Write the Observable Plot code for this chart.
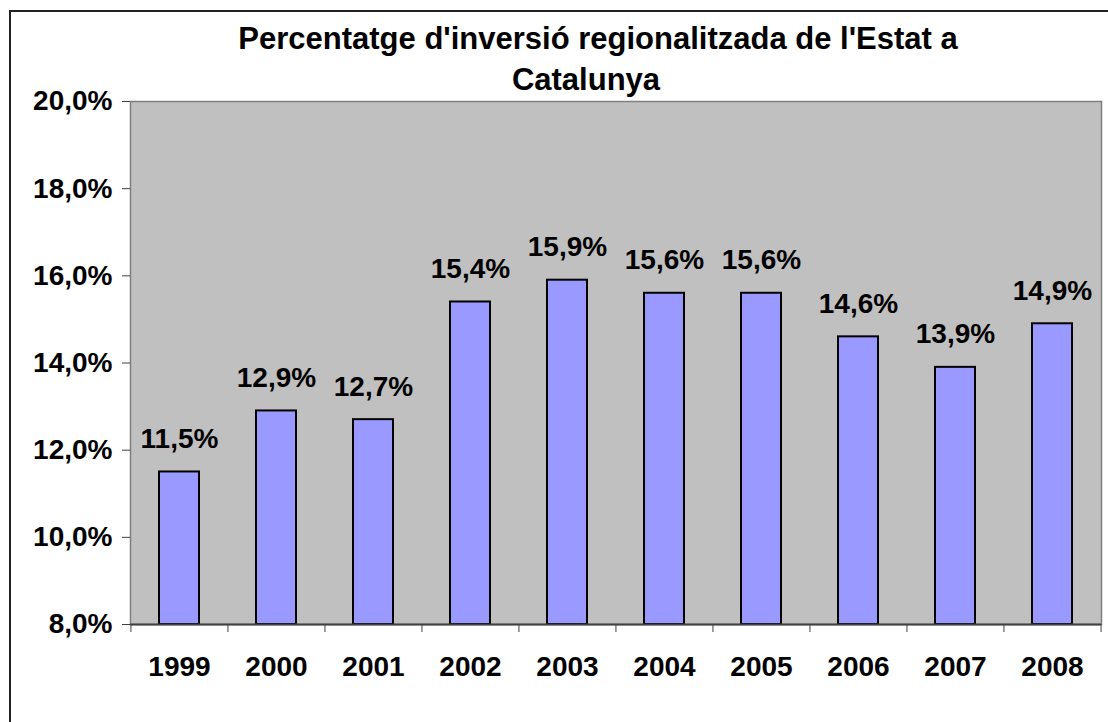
<!DOCTYPE html>
<html><head><meta charset="utf-8">
<script src="https://cdn.jsdelivr.net/npm/d3@7"></script>
<script src="https://cdn.jsdelivr.net/npm/@observablehq/plot@0.6"></script>
<style>
body{margin:0;background:#fff;}
#wrap{position:relative;width:1108px;height:722px;overflow:hidden;font-family:"Liberation Sans",Arial,sans-serif;}
#border{position:absolute;left:9px;top:10px;width:1300px;height:900px;border:2px solid #222;box-sizing:border-box;pointer-events:none;}
.t{position:absolute;font-weight:bold;font-size:31px;white-space:nowrap;transform:translateX(-50%);line-height:1;color:#000;}
#chart{position:absolute;left:0;top:0;}
</style></head>
<body>
<div id="wrap">
  <div id="chart"></div>
  <div id="border"></div>
  <div class="t" style="left:598px;top:23px;">Percentatge d'inversió regionalitzada de l'Estat a</div>
  <div class="t" style="left:586px;top:64px;">Catalunya</div>
</div>
<script>
const years = ["1999","2000","2001","2002","2003","2004","2005","2006","2007","2008"];
const values = [11.5,12.9,12.7,15.4,15.9,15.6,15.6,14.6,13.9,14.9];
const yTicks = [8,10,12,14,16,18,20];
const yDomain = [8,20];

const data = years.map((y,i)=>({year:y, value:values[i]}));
const fmt = v => v.toFixed(1).replace(".", ",") + "%";
const W=1108, H=722, mL=130, mR=7, mT=101, mB=98;
const step = (W-mL-mR)/years.length;

const chart = Plot.plot({
  width: W, height: H,
  marginLeft: mL, marginRight: mR, marginTop: mT, marginBottom: mB,
  style: {fontFamily: "'Liberation Sans', Arial, sans-serif", fontSize: "28px", fontWeight: "bold", color: "#000", background: "transparent", overflow: "visible"},
  x: {domain: years, paddingInner: 0.59, paddingOuter: 0.295, label: null},
  y: {domain: yDomain, label: null},
  marks: [
    Plot.frame({fill: "#C0C0C0", stroke: "#808080", strokeWidth: 1.5}),
    Plot.barY(data, {x: "year", y1: yDomain[0], y2: "value", fill: "#9999FF", stroke: "#000", strokeWidth: 2}),
    Plot.ruleY([yDomain[0]], {stroke: "#404040", strokeWidth: 2}),
    Plot.axisY({ticks: yTicks, tickFormat: fmt, tickSize: 8, tickPadding: 10, stroke: "#404040", label: null}),
    Plot.axisX({tickSize: 0, tickPadding: 32, label: null}),
    Plot.axisX({tickSize: 8, tickFormat: () => "", dx: -step/2, stroke: "#404040", label: null}),
    Plot.axisX({ticks: [years[years.length-1]], tickSize: 8, tickFormat: () => "", dx: step/2, stroke: "#404040", label: null}),
    Plot.text(data, {x: "year", y: "value", text: d => fmt(d.value), dy: -24, lineAnchor: "bottom", fontSize: 28, fontWeight: "bold", fill: "#000"})
  ]
});
document.getElementById("chart").appendChild(chart);
</script>
</body></html>
